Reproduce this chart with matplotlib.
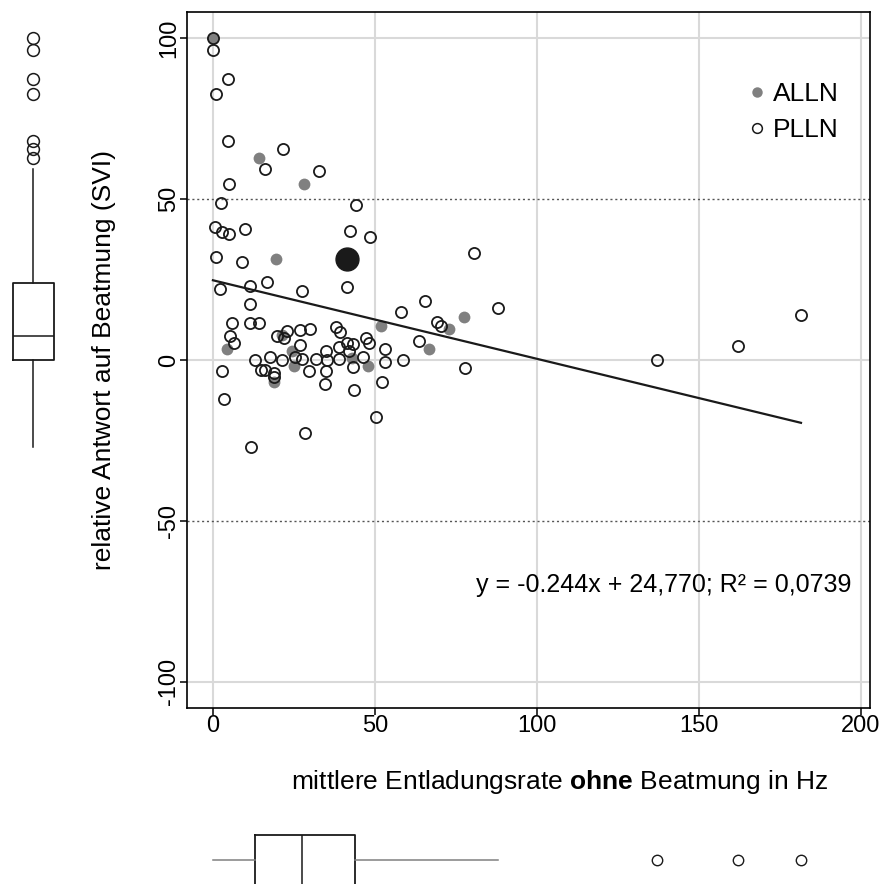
# Streudiagramm: relative Antwort auf Beatmung vs. mittlere Entladungsrate
import numpy as np
import matplotlib.pyplot as plt
from matplotlib.lines import Line2D

plt.rcParams['font.family'] = ['Liberation Sans', 'DejaVu Sans']
plt.rcParams['mathtext.fontset'] = 'custom'
plt.rcParams['mathtext.rm'] = 'Liberation Sans'
plt.rcParams['mathtext.bf'] = 'Liberation Sans:bold'
plt.rcParams['axes.unicode_minus'] = False

# ALLN (grau gefuellt)
alln_x = [0.0, 14.2, 28.2, 19.4, 4.2, 21.4, 24.4, 24.9, 18.8, 42.8, 47.9, 51.8, 66.8, 72.9, 77.5]
alln_y = [100.0, 62.8, 54.8, 31.4, 3.3, 7.7, 2.7, -2.0, -6.7, 0.7, -2.0, 10.6, 3.5, 9.5, 13.3]

# PLLN (offene Kreise)
plln_x = [0.0, 0.0, 4.5, 1.0, 4.5, 21.5, 16.0, 32.8, 5.0, 2.5, 44.2, 0.6, 2.7, 5.0, 9.8,
          42.3, 48.4, 1.0, 9.0, 2.1, 11.3, 16.6, 27.6, 41.3, 80.7, 11.4, 65.6, 58.1, 88.1,
          69.2, 70.5, 5.9, 11.4, 14.1, 5.2, 6.6, 19.7, 21.8, 22.8, 26.9, 30.0, 26.9, 25.4,
          27.5, 13.1, 17.5, 21.2, 14.8, 16.0, 18.7, 18.9, 2.8, 3.3, 11.6, 28.3, 31.8, 29.6,
          35.0, 35.2, 34.8, 34.7, 38.1, 39.1, 38.9, 38.8, 41.4, 43.3, 42.1, 43.2, 43.4, 46.4,
          47.4, 48.1, 53.1, 53.1, 52.2, 50.2, 58.7, 63.7, 77.8, 137.2, 162.1, 181.5]
plln_y = [100.0, 96.4, 87.4, 82.5, 67.9, 65.5, 59.4, 58.6, 54.8, 48.7, 48.1, 41.2, 39.9, 39.1, 40.6,
          40.2, 38.2, 31.9, 30.3, 22.0, 23.1, 24.3, 21.5, 22.6, 33.3, 17.5, 18.3, 14.8, 16.3,
          11.9, 10.6, 11.4, 11.5, 11.5, 7.5, 5.2, 7.5, 6.7, 9.1, 9.3, 9.7, 4.7, 1.0,
          0.4, 0.1, 0.8, -0.1, -3.1, -3.1, -4.1, -5.4, -3.5, -12.1, -27.1, -22.7, 0.2, -3.3,
          2.8, 0.0, -3.3, -7.5, 10.1, 8.7, 4.1, 0.2, 5.2, 4.9, 2.8, -2.3, -9.4, 0.8,
          6.7, 5.4, 3.5, -0.6, -6.9, -17.7, -0.1, 6.0, -2.5, 0.0, 4.3, 14.1]

# grosser schwarzer Punkt
mean_x, mean_y = 41.3, 31.4

# Regression
slope, intercept = -0.244, 24.770
eq_text = 'y = -0.244x + 24,770; R² = 0,0739'

box_y = dict(med=7.5, q1=0.0, q3=24.0, whislo=-27.1, whishi=59.4)
box_x = dict(med=27.5, q1=13.0, q3=43.8, whislo=0.0, whishi=88.1)

all_x = np.array(alln_x + plln_x)
all_y = np.array(alln_y + plln_y)
box_y['fliers'] = np.unique(all_y[(all_y > box_y['whishi']) | (all_y < box_y['whislo'])])
box_x['fliers'] = np.unique(all_x[(all_x > box_x['whishi']) | (all_x < box_x['whislo'])])

W, H = 885, 884
def px(l, t, r, b):
    return [l / W, 1 - b / H, (r - l) / W, (b - t) / H]

fs = 19
fs_tick = 17
fig = plt.figure(figsize=(W / 100, H / 100), dpi=100)
ax = fig.add_axes(px(187, 12, 870, 708))
ax.set_xlim(-8.0, 202.8)
ax.set_ylim(-108.1, 108.1)

# Gitter
for xv in [0, 50, 100, 150, 200]:
    ax.axvline(xv, color='#d9d9d9', lw=1.5, zorder=0)
for yv in [-100, 0, 100]:
    ax.axhline(yv, color='#d9d9d9', lw=1.5, zorder=0)
for yv in [-50, 50]:
    ax.axhline(yv, color='#555555', lw=1, ls=(0, (1.5, 2)), zorder=0)

ax.plot(alln_x, alln_y, 'o', ls='', mfc='#808080', mec='none', ms=8.5, zorder=2)
ax.plot(plln_x, plln_y, 'o', ls='', mfc='none', mec='#1a1a1a', ms=8, mew=1.3, zorder=3)
ax.plot([mean_x], [mean_y], 'o', color='#1a1a1a', ms=16.5, zorder=4)

xl = np.array([all_x.min(), all_x.max()])
ax.plot(xl, slope * xl + intercept, color='#1a1a1a', lw=1.6, zorder=3)

ax.text(197.2, -69.9, eq_text, ha='right', va='center', fontsize=18)

handles = [Line2D([], [], marker='o', ls='', mfc='#808080', mec='none', ms=7.5),
           Line2D([], [], marker='o', ls='', mfc='none', mec='#1a1a1a', ms=7, mew=1.1)]
ax.legend(handles, ['ALLN', 'PLLN'], loc='upper left',
          bbox_to_anchor=((741 - 187) / 683, 1 - (82 - 12) / 696),
          frameon=False, handletextpad=0.0, borderpad=0, borderaxespad=0,
          handlelength=1.2, fontsize=fs, labelspacing=0.45)

ax.set_xticks([0, 50, 100, 150, 200])
ax.set_yticks([-100, -50, 0, 50, 100])
ax.tick_params(direction='out', length=5, width=1.1, labelsize=fs_tick, pad=0)
plt.setp(ax.get_yticklabels(), rotation=90, va='center')
for s in ax.spines.values():
    s.set_linewidth(1.2)

ax.set_ylabel('relative Antwort auf Beatmung (SVI)', fontsize=fs, labelpad=30)
ax.set_xlabel('mittlere Entladungsrate $\\bf{ohne}$ Beatmung in Hz', fontsize=fs, labelpad=22)
ax.xaxis.set_label_coords((560 - 187) / 683, -(780 - 708 - 12) / 696)

# Boxplot links (y-Werte)
ax_l = fig.add_axes(px(0, 12, 80, 708))
ax_l.set_ylim(ax.get_ylim())
ax_l.set_xlim(0, 80)
ax_l.bxp([box_y], positions=[33], widths=41, showcaps=False,
         boxprops=dict(color='#1a1a1a', lw=1.3),
         medianprops=dict(color='#1a1a1a', lw=1.1),
         whiskerprops=dict(color='#1a1a1a', lw=1.1),
         flierprops=dict(marker='o', mfc='none', mec='#1a1a1a', ms=8.5, mew=1.1))
ax_l.axis('off')

# Boxplot unten (x-Werte)
ax_b = fig.add_axes(px(187, 800, 870, 884))
ax_b.set_xlim(ax.get_xlim())
ax_b.set_ylim(884, 800)
ax_b.bxp([box_x], positions=[860], widths=50, showcaps=False, orientation='horizontal',
         boxprops=dict(color='#1a1a1a', lw=1.3),
         medianprops=dict(color='#1a1a1a', lw=1.1),
         whiskerprops=dict(color='#808080', lw=1.1),
         flierprops=dict(marker='o', mfc='none', mec='#1a1a1a', ms=7.5, mew=1.0))
ax_b.axis('off')

fig.savefig('out.png', dpi=100)
